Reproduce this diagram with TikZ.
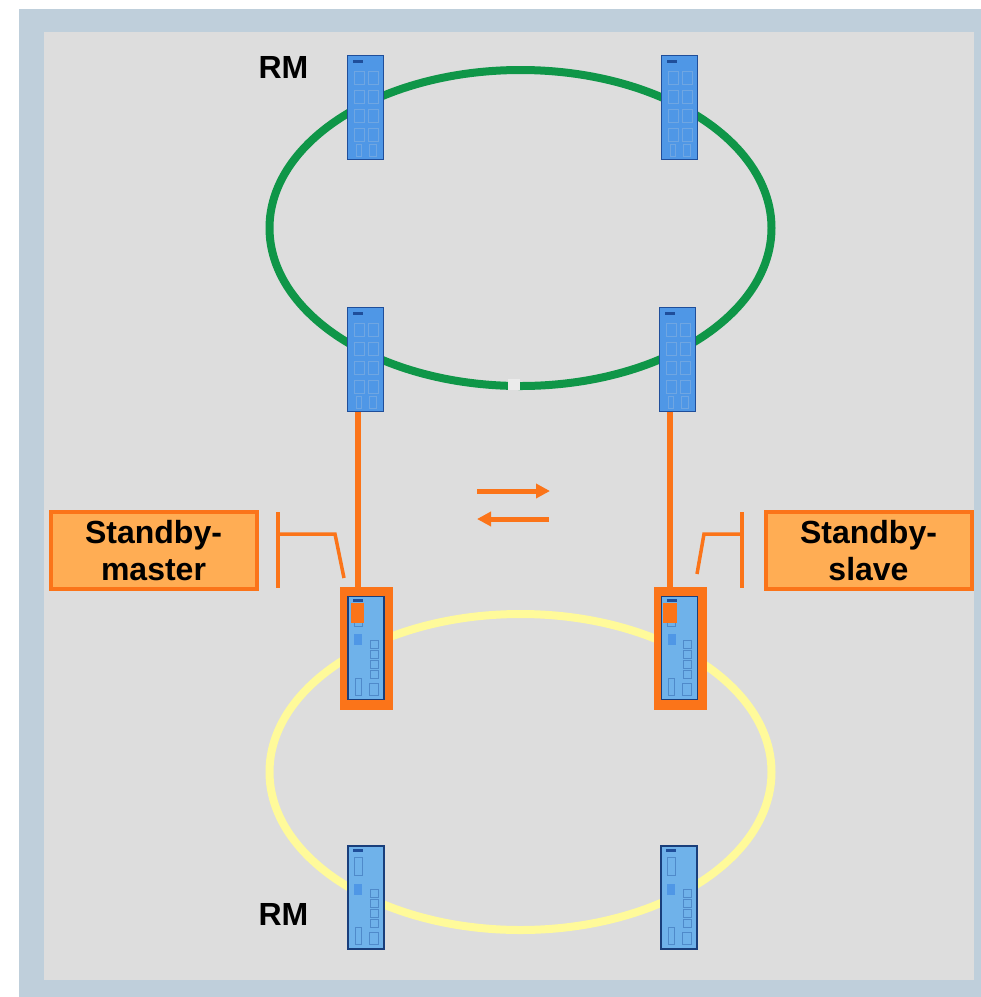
\documentclass[tikz,border=0pt]{standalone}
\usepackage{fontspec}
\setmainfont{Liberation Sans}
\usetikzlibrary{arrows.meta}
\definecolor{frameblue}{HTML}{BFCFDB}
\definecolor{panel}{HTML}{DDDDDD}
\definecolor{ringgreen}{HTML}{0F9648}
\definecolor{ringyellow}{HTML}{FFFA9A}
\definecolor{accent}{HTML}{FB7419}
\definecolor{labelfill}{HTML}{FFAD54}
\definecolor{swfill}{HTML}{4F97E6}
\definecolor{swfillb}{HTML}{6FB2EA}
\definecolor{swline}{HTML}{1F4E9A}
\definecolor{swport}{HTML}{6FA6E2}
\tikzset{
  x=1pt,y=-1pt,
  ring/.style={line width=8pt},
  switchtop/.style={draw=swline,line width=1.2pt,fill=swfill,minimum width=36pt,minimum height=104pt,inner sep=0pt,outer sep=0pt},
  switchlow/.style={draw=swline!80!black,line width=1.2pt,fill=swfillb,minimum width=36pt,minimum height=103pt,inner sep=0pt,outer sep=0pt},
  hot/.style={draw=accent,fill=accent,line width=1pt,minimum width=52pt,minimum height=122pt,inner sep=0pt,outer sep=0pt},
  link/.style={draw=accent,line width=6pt},
  callout/.style={draw=accent,line width=3.5pt},
  flow/.style={draw=accent,line width=5pt,-{Triangle[length=14pt,width=14pt]}},
  labelbox/.style={draw=accent,line width=4pt,fill=labelfill,minimum width=206pt,minimum height=77pt,align=center,font=\fontsize{32}{38}\selectfont\bfseries,inner sep=0pt},
  rmtext/.style={font=\fontsize{32}{38}\selectfont\bfseries,inner sep=0pt},
  port/.style={draw=swport,line width=1pt},
  portb/.style={draw=swline!40!swfillb,line width=.8pt}
}
\newcommand{\topdetail}[1]{%
  \begin{scope}[shift={(#1)}]
    \fill[swline] (-13,-48) rectangle (-3,-45);
    \foreach \r in {-36,-17,2,21}{
      \draw[port] (-11,\r) rectangle (-1,\r+13);
      \draw[port] (3,\r) rectangle (13,\r+13);
    }
    \draw[port] (-9,37) rectangle (-4,49);
    \draw[port] (4,37) rectangle (11,49);
  \end{scope}}
\newcommand{\lowdetail}[1]{%
  \begin{scope}[shift={(#1)}]
    \fill[swline] (-13,-49) rectangle (-3,-46);
    \draw[portb] (-12,-40) rectangle (-4,-22);
    \fill[swfill] (-12,-14) rectangle (-4,-3);
    \foreach \r in {-8,2,12,22}{\draw[portb] (4,\r) rectangle (12,\r+8);}
    \draw[portb] (-11,30) rectangle (-5,47);
    \draw[portb] (3,35) rectangle (12,47);
  \end{scope}}
\begin{document}
\begin{tikzpicture}
\useasboundingbox (0,0) rectangle (981,997);
\fill[white] (0,0) rectangle (981,997);
\fill[frameblue] (19,9) rectangle (981,997);
\fill[panel] (44,32) rectangle (974,980);
% rings
\draw[ring,draw=ringgreen] (520.5,228) ellipse [x radius=251,y radius=158];
\fill[panel!60!white] (508,379) rectangle (520,390);
\draw[ring,draw=ringyellow] (520.5,772) ellipse [x radius=251,y radius=158];
% orange frames behind the switches
\node[hot] (hotl) at (366.5,648) {};
\node[hot] (hotr) at (680,648) {};
% switches
\node[switchtop] (sw1) at (365.5,107.5) {};
\node[switchtop] (sw2) at (679.5,107.5) {};
\node[switchtop] (sw3) at (365.5,359.5) {};
\node[switchtop] (sw4) at (677.5,359.5) {};
\topdetail{365.5,107.5}
\topdetail{679.5,107.5}
\topdetail{365.5,359.5}
\topdetail{677.5,359.5}
\node[switchlow] (sw5) at (366,648) {};
\node[switchlow] (sw6) at (679.5,648) {};
\node[switchlow] (sw7) at (366,897.5) {};
\node[switchlow] (sw8) at (679,897.5) {};
\lowdetail{366,648}
\lowdetail{679.5,648}
\lowdetail{366,897.5}
\lowdetail{679,897.5}
\fill[accent] (351,603) rectangle (364,623);
\fill[accent] (663,603) rectangle (677,623);
% links
\draw[link] ([xshift=-7.5pt]sw3.south) -- ([xshift=-8.5pt]hotl.north);
\draw[link] ([xshift=-7.5pt]sw4.south) -- ([xshift=-10pt]hotr.north);
% flow arrows
\coordinate (fa) at (477,491);
\coordinate (fb) at (550,491);
\coordinate (fc) at (549,519);
\coordinate (fd) at (477,519);
\draw[flow] (fa) -- (fb);
\draw[flow] (fc) -- (fd);
% labels
\node[labelbox] (lm) at (153.5,550.5) {\raisebox{-1pt}{Standby-}\\master};
\node[labelbox] (ls) at (868.5,550.5) {\raisebox{-1pt}{Standby-}\\slave};
\node[rmtext] (rm1) at (283.5,67) {RM};
\node[rmtext] (rm2) at (283.5,914) {RM};
% callouts
\coordinate (cl1) at (278,512);
\coordinate (cl2) at (278,588);
\coordinate (cl3) at (278,534);
\coordinate (cl4) at (335,534);
\coordinate (cl5) at (344,578);
\draw[callout] (cl1) -- (cl2);
\draw[callout] (cl3) -- (cl4) -- (cl5);
\coordinate (cr1) at (742,512);
\coordinate (cr2) at (742,588);
\coordinate (cr3) at (742,534);
\coordinate (cr4) at (704,534);
\coordinate (cr5) at (697,574);
\draw[callout] (cr1) -- (cr2);
\draw[callout] (cr3) -- (cr4) -- (cr5);
\end{tikzpicture}
\end{document}
